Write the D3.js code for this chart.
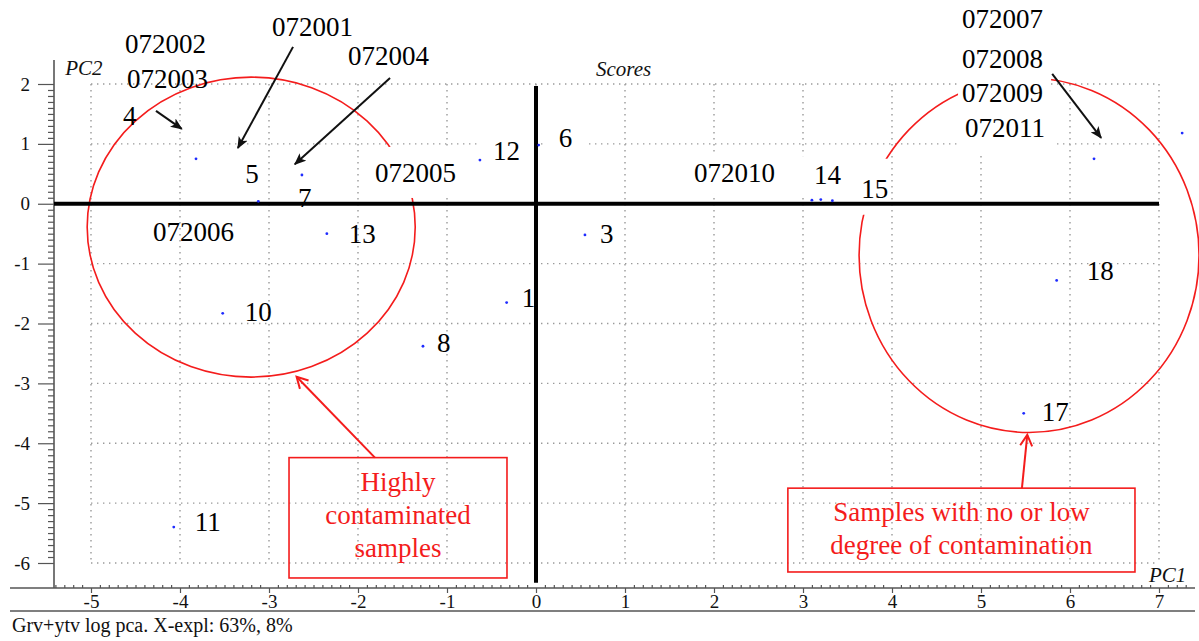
<!DOCTYPE html>
<html>
<head>
<meta charset="utf-8">
<script src="https://cdn.jsdelivr.net/npm/d3@7"></script>
<style>
  body { margin: 0; background: #fff; }
  svg { display: block; }
</style>
</head>
<body>
<svg id="chart"></svg>
<script>
// PCA scores (PC1, PC2)
const sampleIds = ["1", "2", "3", "4", "5", "6", "7", "8", "9", "10", "11", "12", "13", "14", "15", "16", "17", "18"];
const pc1 = [-0.33, 7.26, 0.55, -3.82, -3.12, 0.03, -2.63, -1.27, 6.27, -3.52, -4.07, -0.63, -2.35, 3.10, 3.33, 3.20, 5.48, 5.85];
const pc2 = [-1.65, 1.18, -0.52, 0.75, 0.04, 0.98, 0.48, -2.38, 0.75, -1.83, -5.40, 0.73, -0.50, 0.06, 0.05, 0.07, -3.50, -1.28];

// tick values
const xTicks = [-5, -4, -3, -2, -1, 0, 1, 2, 3, 4, 5, 6, 7];
const yTicks = [-6, -5, -4, -3, -2, -1, 0, 1, 2];

// sample codes written on the plot
const codeText = ["072002", "072003", "072001", "072004", "072005", "072006", "072010", "072007", "072008", "072009", "072011"];

// annotation text
const groupText = [["Highly", "contaminated", "samples"], ["Samples with no or low", "degree of contamination"]];
const caption = "Grv+ytv log pca. X-expl: 63%, 8%";

// ---- layout (not data) ----
const W = 1199, H = 641;
const axisX = 54, axisY = 588;
const serif = '"Liberation Serif", serif';

// label offsets from their point, px (baseline start)
const labelOffset = {
  "1": [15, 4], "3": [15, 8], "4": [-73, -34], "5": [-13, -18], "6": [20, 2], "7": [-4, 32],
  "8": [14, 6], "10": [22, 8], "11": [21, 4], "12": [13, 0], "13": [22, 9],
  "14": [2, -16], "15": [29, -3], "17": [18, 8], "18": [30, 0]
};
// code label anchors in data units
const codeAt = [[-4.618, 2.518], [-4.596, 1.935], [-2.966, 2.802], [-2.112, 2.318], [-1.809, 0.364],
  [-4.303, -0.622], [1.775, 0.364], [4.787, 2.935], [4.787, 2.267], [4.787, 1.699], [4.82, 1.115]];
// white backgrounds behind some labels: [top, right, bottom, left]
const bgPad = {
  "072005": [11, 6, 10, 4], "072010": [4, 6, 6, 6],
  "072007": [10, 8, 12, 4], "072008": [10, 8, 12, 4], "072009": [10, 8, 12, 4], "072011": [10, 8, 12, 4],
  "12": [4, 16, 4, 15], "6": [4, 14, 4, 14], "14": [4, 4, 4, 14], "15": [15, 2, 11, 16]
};
const ellipses = [{cx: -3.20, cy: -0.39, rx: 1.843, ry: 2.505}, {cx: 5.54, cy: -0.86, rx: 1.91, ry: 2.96}];
const blackArrows = [[[-4.27, 1.55], [-3.98, 1.25]], [[-2.73, 2.62], [-3.35, 0.93]],
  [[-1.64, 2.10], [-2.71, 0.66]], [[5.80, 2.17], [6.35, 1.10]]];
const redArrows = [[[-1.81, -4.24], [-2.69, -2.89]], [[5.46, -4.75], [5.52, -3.86]]];
const redBoxes = [{x0: -2.775, x1: -0.326, y0: -4.24, y1: -6.25}, {x0: 2.83, x1: 6.73, y0: -4.75, y1: -6.15}];
const red = "#f41c1c";

const svg = d3.select("#chart").attr("width", W).attr("height", H)
  .style("font-family", serif);

const x = d3.scaleLinear().domain([-5, 7]).range([91, 1159]);
const y = d3.scaleLinear().domain([-6, 2]).range([563, 84]);

const defs = svg.append("defs");
defs.append("marker").attr("id", "headBlack").attr("viewBox", "0 0 12 10")
  .attr("refX", 11).attr("refY", 5).attr("markerWidth", 12).attr("markerHeight", 10)
  .attr("markerUnits", "userSpaceOnUse").attr("orient", "auto")
  .append("path").attr("d", "M0,0 L12,5 L0,10 L3,5 Z").attr("fill", "#111");
defs.append("marker").attr("id", "headRed").attr("viewBox", "0 0 14 14")
  .attr("refX", 12).attr("refY", 7).attr("markerWidth", 14).attr("markerHeight", 14)
  .attr("markerUnits", "userSpaceOnUse").attr("orient", "auto")
  .append("path").attr("d", "M1,1 L12,7 L1,13").attr("fill", "none")
  .attr("stroke", red).attr("stroke-width", 2);

// Layers
const gGrid = svg.append("g");
const gEll = svg.append("g");
const gBg = svg.append("g");
const gAxes = svg.append("g");
const gPts = svg.append("g");
const gTxt = svg.append("g");
const gArr = svg.append("g");
const gAnn = svg.append("g");

// dotted grid
gGrid.attr("stroke", "#9a9a9a").attr("stroke-width", 1.4).attr("stroke-dasharray", "1.4 4.6");
gGrid.selectAll(".gv").data(xTicks).join("line").attr("class", "gv")
  .attr("x1", d => x(d)).attr("x2", d => x(d)).attr("y1", y(2)).attr("y2", y(-6));
gGrid.selectAll(".gh").data(yTicks).join("line").attr("class", "gh")
  .attr("x1", x(-5)).attr("x2", x(7)).attr("y1", d => y(d)).attr("y2", d => y(d));

// red ellipses
gEll.selectAll("ellipse").data(ellipses).join("ellipse")
  .attr("cx", d => x(d.cx)).attr("cy", d => y(d.cy))
  .attr("rx", d => x(d.cx + d.rx) - x(d.cx)).attr("ry", d => y(d.cy - d.ry) - y(d.cy))
  .attr("fill", "none").attr("stroke", red).attr("stroke-width", 1.6);

// Axes
const axisColor = "#555";
const yMajor = gAxes.append("g").attr("transform", `translate(${axisX},0)`)
  .call(d3.axisLeft(y).tickValues(yTicks).tickSize(16).tickPadding(8).tickFormat(d => String(d)));
const yMinor = gAxes.append("g").attr("transform", `translate(${axisX},0)`)
  .call(d3.axisLeft(y).tickValues(d3.range(-60, 21).filter(i => i % 10 !== 0).map(i => i / 10))
    .tickSize(6).tickFormat(""));
const xMajor = gAxes.append("g").attr("transform", `translate(0,${axisY})`)
  .call(d3.axisBottom(x).tickValues(xTicks).tickSize(5).tickPadding(1.5).tickFormat(d => String(d)));
const xMinor = gAxes.append("g").attr("transform", `translate(0,${axisY})`)
  .call(d3.axisBottom(x).tickValues(d3.range(-54, 74).filter(i => i % 10 !== 0).map(i => i / 10))
    .tickSize(-3).tickFormat(""));
[yMajor, yMinor, xMajor, xMinor].forEach(g => {
  g.attr("font-family", null).attr("font-size", null);
  g.select(".domain").remove();
  g.selectAll("line").attr("stroke", axisColor).attr("stroke-width", 1.2);
  g.selectAll("text").attr("fill", "#111").style("font-family", serif).style("font-size", "19px");
});

gAxes.append("line").attr("x1", axisX).attr("x2", axisX).attr("y1", 60).attr("y2", axisY)
  .attr("stroke", axisColor).attr("stroke-width", 1.6);
gAxes.append("line").attr("x1", 10).attr("x2", 1195).attr("y1", axisY).attr("y2", axisY)
  .attr("stroke", axisColor).attr("stroke-width", 1.6);
gAxes.append("line").attr("x1", 10).attr("x2", 1195).attr("y1", 611).attr("y2", 611)
  .attr("stroke", axisColor).attr("stroke-width", 1.6);

// thick origin lines
gAxes.append("line").attr("x1", axisX).attr("x2", x(7)).attr("y1", y(0)).attr("y2", y(0))
  .attr("stroke", "#000").attr("stroke-width", 4);
gAxes.append("line").attr("x1", x(0)).attr("x2", x(0)).attr("y1", y(2) + 2).attr("y2", y(-6.33))
  .attr("stroke", "#000").attr("stroke-width", 4);

// axis titles
const italic = (t, px, py) => gTxt.append("text").attr("x", px).attr("y", py)
  .style("font-family", serif).style("font-style", "italic").style("font-size", "21px")
  .attr("fill", "#111").text(t);
italic("PC2", x(-5.29), y(2.15));
italic("Scores", x(0.674), y(2.133));
italic("PC1", x(6.888), y(-6.32));

// points
const points = sampleIds.map((id, i) => ({id, px: pc1[i], py: pc2[i]}));
gPts.selectAll("circle").data(points).join("circle")
  .attr("cx", d => x(d.px)).attr("cy", d => y(d.py)).attr("r", 1.4).attr("fill", "#1f2cff");

// label helper with optional white background
function addLabel(t, px, py) {
  const el = gTxt.append("text").attr("x", px).attr("y", py)
    .style("font-family", serif).style("font-size", "27px").attr("fill", "#000").text(t);
  const pad = bgPad[t];
  if (pad) {
    const b = el.node().getBBox();
    gBg.append("rect").attr("x", b.x - pad[3]).attr("y", b.y - pad[0])
      .attr("width", b.width + pad[1] + pad[3]).attr("height", b.height + pad[0] + pad[2])
      .attr("fill", "#fff");
  }
}

points.filter(d => labelOffset[d.id]).forEach(d => {
  const o = labelOffset[d.id];
  addLabel(d.id, x(d.px) + o[0], y(d.py) + o[1]);
});
codeText.forEach((t, i) => addLabel(t, x(codeAt[i][0]), y(codeAt[i][1])));

// black arrows
gArr.selectAll(".ab").data(blackArrows).join("line").attr("class", "ab")
  .attr("x1", d => x(d[0][0])).attr("y1", d => y(d[0][1]))
  .attr("x2", d => x(d[1][0])).attr("y2", d => y(d[1][1]))
  .attr("stroke", "#111").attr("stroke-width", 2).attr("marker-end", "url(#headBlack)");

// red arrows
gArr.selectAll(".ar").data(redArrows).join("line").attr("class", "ar")
  .attr("x1", d => x(d[0][0])).attr("y1", d => y(d[0][1]))
  .attr("x2", d => x(d[1][0])).attr("y2", d => y(d[1][1]))
  .attr("stroke", red).attr("stroke-width", 2).attr("marker-end", "url(#headRed)");

// red boxes with text
redBoxes.forEach((b, i) => {
  gAnn.append("rect").attr("x", x(b.x0)).attr("y", y(b.y0))
    .attr("width", x(b.x1) - x(b.x0)).attr("height", y(b.y1) - y(b.y0))
    .attr("fill", "none").attr("stroke", red).attr("stroke-width", 1.6);
  const t = gAnn.append("text").attr("text-anchor", "middle")
    .style("font-family", serif).style("font-size", "27px").attr("fill", red);
  groupText[i].forEach((line, j) => {
    t.append("tspan").attr("x", (x(b.x0) + x(b.x1)) / 2).attr("y", y(b.y0) + 33 + j * 33).text(line);
  });
});

// caption
svg.append("text").attr("x", 12).attr("y", 632)
  .style("font-family", serif).style("font-size", "20px").attr("fill", "#111").text(caption);
</script>
</body>
</html>
